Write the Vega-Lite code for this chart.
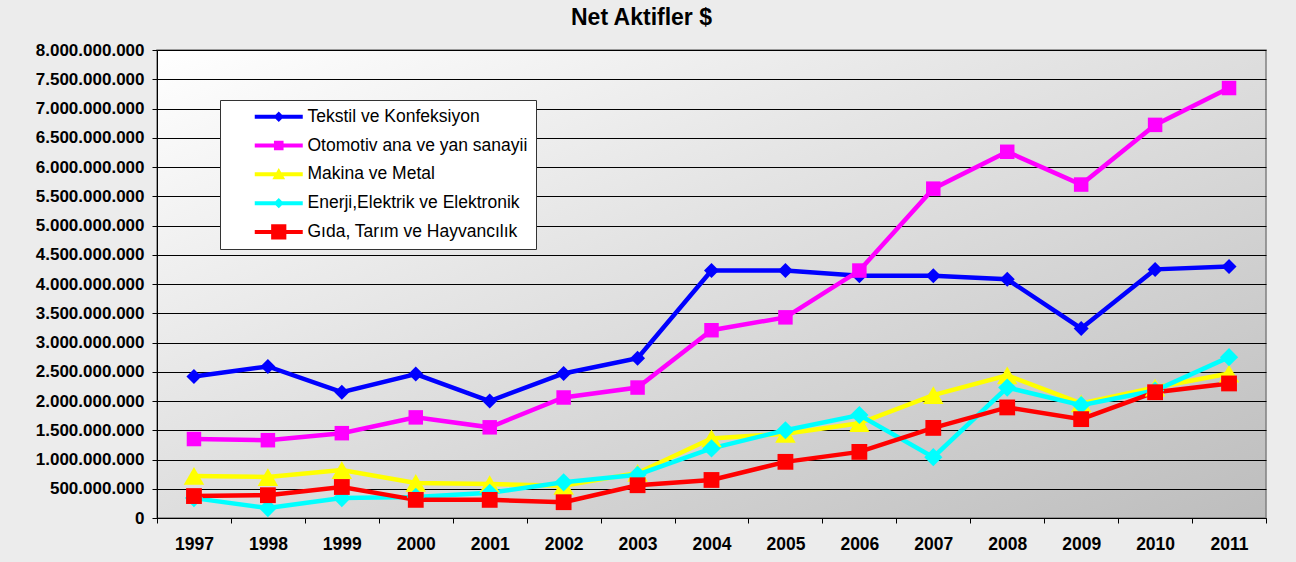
{
  "$schema": "https://vega.github.io/schema/vega-lite/v6.json",
  "autosize": "none",
  "width": 1109,
  "height": 468,
  "padding": {"left": 157, "top": 50, "right": 30, "bottom": 44},
  "background": "#ececec",
  "title": {"text": "Net Aktifler $", "fontSize": 23, "fontWeight": "bold", "font": "Liberation Sans", "color": "#000000", "dx": -70, "offset": 11},
  "data": {"values": [
    {"year": "1997", "series": "Tekstil ve Konfeksiyon", "value": 2420000000},
    {"year": "1998", "series": "Tekstil ve Konfeksiyon", "value": 2590000000},
    {"year": "1999", "series": "Tekstil ve Konfeksiyon", "value": 2150000000},
    {"year": "2000", "series": "Tekstil ve Konfeksiyon", "value": 2460000000},
    {"year": "2001", "series": "Tekstil ve Konfeksiyon", "value": 2000000000},
    {"year": "2002", "series": "Tekstil ve Konfeksiyon", "value": 2470000000},
    {"year": "2003", "series": "Tekstil ve Konfeksiyon", "value": 2730000000},
    {"year": "2004", "series": "Tekstil ve Konfeksiyon", "value": 4230000000},
    {"year": "2005", "series": "Tekstil ve Konfeksiyon", "value": 4230000000},
    {"year": "2006", "series": "Tekstil ve Konfeksiyon", "value": 4140000000},
    {"year": "2007", "series": "Tekstil ve Konfeksiyon", "value": 4140000000},
    {"year": "2008", "series": "Tekstil ve Konfeksiyon", "value": 4080000000},
    {"year": "2009", "series": "Tekstil ve Konfeksiyon", "value": 3240000000},
    {"year": "2010", "series": "Tekstil ve Konfeksiyon", "value": 4250000000},
    {"year": "2011", "series": "Tekstil ve Konfeksiyon", "value": 4300000000},
    {"year": "1997", "series": "Otomotiv ana ve yan sanayii", "value": 1350000000},
    {"year": "1998", "series": "Otomotiv ana ve yan sanayii", "value": 1330000000},
    {"year": "1999", "series": "Otomotiv ana ve yan sanayii", "value": 1450000000},
    {"year": "2000", "series": "Otomotiv ana ve yan sanayii", "value": 1720000000},
    {"year": "2001", "series": "Otomotiv ana ve yan sanayii", "value": 1550000000},
    {"year": "2002", "series": "Otomotiv ana ve yan sanayii", "value": 2060000000},
    {"year": "2003", "series": "Otomotiv ana ve yan sanayii", "value": 2230000000},
    {"year": "2004", "series": "Otomotiv ana ve yan sanayii", "value": 3210000000},
    {"year": "2005", "series": "Otomotiv ana ve yan sanayii", "value": 3430000000},
    {"year": "2006", "series": "Otomotiv ana ve yan sanayii", "value": 4230000000},
    {"year": "2007", "series": "Otomotiv ana ve yan sanayii", "value": 5630000000},
    {"year": "2008", "series": "Otomotiv ana ve yan sanayii", "value": 6260000000},
    {"year": "2009", "series": "Otomotiv ana ve yan sanayii", "value": 5700000000},
    {"year": "2010", "series": "Otomotiv ana ve yan sanayii", "value": 6720000000},
    {"year": "2011", "series": "Otomotiv ana ve yan sanayii", "value": 7350000000},
    {"year": "1997", "series": "Makina ve Metal", "value": 720000000},
    {"year": "1998", "series": "Makina ve Metal", "value": 700000000},
    {"year": "1999", "series": "Makina ve Metal", "value": 820000000},
    {"year": "2000", "series": "Makina ve Metal", "value": 600000000},
    {"year": "2001", "series": "Makina ve Metal", "value": 580000000},
    {"year": "2002", "series": "Makina ve Metal", "value": 550000000},
    {"year": "2003", "series": "Makina ve Metal", "value": 770000000},
    {"year": "2004", "series": "Makina ve Metal", "value": 1360000000},
    {"year": "2005", "series": "Makina ve Metal", "value": 1440000000},
    {"year": "2006", "series": "Makina ve Metal", "value": 1620000000},
    {"year": "2007", "series": "Makina ve Metal", "value": 2100000000},
    {"year": "2008", "series": "Makina ve Metal", "value": 2440000000},
    {"year": "2009", "series": "Makina ve Metal", "value": 1960000000},
    {"year": "2010", "series": "Makina ve Metal", "value": 2230000000},
    {"year": "2011", "series": "Makina ve Metal", "value": 2470000000},
    {"year": "1997", "series": "Enerji,Elektrik ve Elektronik", "value": 340000000},
    {"year": "1998", "series": "Enerji,Elektrik ve Elektronik", "value": 170000000},
    {"year": "1999", "series": "Enerji,Elektrik ve Elektronik", "value": 340000000},
    {"year": "2000", "series": "Enerji,Elektrik ve Elektronik", "value": 360000000},
    {"year": "2001", "series": "Enerji,Elektrik ve Elektronik", "value": 430000000},
    {"year": "2002", "series": "Enerji,Elektrik ve Elektronik", "value": 610000000},
    {"year": "2003", "series": "Enerji,Elektrik ve Elektronik", "value": 740000000},
    {"year": "2004", "series": "Enerji,Elektrik ve Elektronik", "value": 1190000000},
    {"year": "2005", "series": "Enerji,Elektrik ve Elektronik", "value": 1500000000},
    {"year": "2006", "series": "Enerji,Elektrik ve Elektronik", "value": 1760000000},
    {"year": "2007", "series": "Enerji,Elektrik ve Elektronik", "value": 1040000000},
    {"year": "2008", "series": "Enerji,Elektrik ve Elektronik", "value": 2230000000},
    {"year": "2009", "series": "Enerji,Elektrik ve Elektronik", "value": 1930000000},
    {"year": "2010", "series": "Enerji,Elektrik ve Elektronik", "value": 2180000000},
    {"year": "2011", "series": "Enerji,Elektrik ve Elektronik", "value": 2750000000},
    {"year": "1997", "series": "Gıda, Tarım ve Hayvancılık", "value": 375000000},
    {"year": "1998", "series": "Gıda, Tarım ve Hayvancılık", "value": 390000000},
    {"year": "1999", "series": "Gıda, Tarım ve Hayvancılık", "value": 530000000},
    {"year": "2000", "series": "Gıda, Tarım ve Hayvancılık", "value": 310000000},
    {"year": "2001", "series": "Gıda, Tarım ve Hayvancılık", "value": 310000000},
    {"year": "2002", "series": "Gıda, Tarım ve Hayvancılık", "value": 270000000},
    {"year": "2003", "series": "Gıda, Tarım ve Hayvancılık", "value": 560000000},
    {"year": "2004", "series": "Gıda, Tarım ve Hayvancılık", "value": 650000000},
    {"year": "2005", "series": "Gıda, Tarım ve Hayvancılık", "value": 960000000},
    {"year": "2006", "series": "Gıda, Tarım ve Hayvancılık", "value": 1130000000},
    {"year": "2007", "series": "Gıda, Tarım ve Hayvancılık", "value": 1540000000},
    {"year": "2008", "series": "Gıda, Tarım ve Hayvancılık", "value": 1890000000},
    {"year": "2009", "series": "Gıda, Tarım ve Hayvancılık", "value": 1690000000},
    {"year": "2010", "series": "Gıda, Tarım ve Hayvancılık", "value": 2150000000},
    {"year": "2011", "series": "Gıda, Tarım ve Hayvancılık", "value": 2300000000}
  ]},
  "encoding": {
    "x": {"field": "year", "type": "ordinal", "scale": {"paddingInner": 0, "paddingOuter": 0},
      "axis": {"title": null, "labelAngle": 0, "labelFontSize": 17.5, "labelFontWeight": "bold", "labelFont": "Liberation Sans", "labelColor": "#000000", "domainColor": "#000000", "tickColor": "#000000", "tickSize": 5, "tickBand": "extent", "labelPadding": 12, "grid": false}},
    "y": {"field": "value", "type": "quantitative", "scale": {"domain": [0, 8000000000], "nice": false},
      "axis": {"title": null, "values": [0, 500000000, 1000000000, 1500000000, 2000000000, 2500000000, 3000000000, 3500000000, 4000000000, 4500000000, 5000000000, 5500000000, 6000000000, 6500000000, 7000000000, 7500000000, 8000000000], "format": ",d", "labelFontSize": 17, "labelFontWeight": "bold", "labelFont": "Liberation Sans", "labelColor": "#000000", "domainColor": "#000000", "tickColor": "#000000", "tickSize": 5, "labelPadding": 8, "grid": true, "gridColor": "#000000", "gridOpacity": 1, "gridWidth": 1}},
    "color": {"field": "series", "type": "nominal",
      "scale": {"domain": ["Tekstil ve Konfeksiyon", "Otomotiv ana ve yan sanayii", "Makina ve Metal", "Enerji,Elektrik ve Elektronik", "Gıda, Tarım ve Hayvancılık"], "range": ["#0000ff", "#ff00ff", "#ffff00", "#00ffff", "#ff0000"]}}
  },
  "layer": [
    {
      "mark": {"type": "line", "strokeWidth": 4.5},
      "encoding": {
        "color": {"field": "series", "type": "nominal",
          "legend": {
            "title": null, "orient": "none", "legendX": 63, "legendY": 50,
            "fillColor": "#ffffff", "strokeColor": "#333333", "padding": 8,
            "labelFont": "Liberation Sans", "labelFontSize": 17.5, "labelColor": "#000000", "labelLimit": 400,
            "symbolType": "M-3,-0.25H3V0.25H-3Z", "symbolSize": 256, "symbolOffset": 42, "labelOffset": 20, "rowPadding": 9.8,
            "encode": {"symbols": {"update": {
              "shape": {"signal": "['M-3,-0.25H3V0.25H-3Z M0,-0.65L0.65,0L0,0.65L-0.65,0Z','M-3,-0.25H3V0.25H-3Z M-0.6,-0.6H0.6V0.6H-0.6Z','M-3,-0.25H3V0.25H-3Z M0,-0.8L0.8,0.6H-0.8Z','M-3,-0.25H3V0.25H-3Z M0,-0.65L0.65,0L0,0.65L-0.65,0Z','M-3,-0.25H3V0.25H-3Z M-0.95,-0.95H0.95V0.95H-0.95Z'][indexof(['Tekstil ve Konfeksiyon','Otomotiv ana ve yan sanayii','Makina ve Metal','Enerji,Elektrik ve Elektronik','Gıda, Tarım ve Hayvancılık'], datum.value)]"},
              "fill": {"scale": "color", "field": "value"},
              "fillOpacity": {"value": 1},
              "opacity": {"value": 1},
              "strokeWidth": {"value": 0},
              "size": {"value": 256}
            }}}
          }}
      }
    },
    {
      "transform": [{"filter": "datum.series === 'Tekstil ve Konfeksiyon'"}],
      "mark": {"type": "point", "filled": true, "opacity": 1, "shape": "diamond", "size": 225}
    },
    {
      "transform": [{"filter": "datum.series === 'Otomotiv ana ve yan sanayii'"}],
      "mark": {"type": "point", "filled": true, "opacity": 1, "shape": "square", "size": 210}
    },
    {
      "transform": [{"filter": "datum.series === 'Makina ve Metal'"}],
      "mark": {"type": "point", "filled": true, "opacity": 1, "shape": "triangle-up", "size": 420}
    },
    {
      "transform": [{"filter": "datum.series === 'Enerji,Elektrik ve Elektronik'"}],
      "mark": {"type": "point", "filled": true, "opacity": 1, "shape": "diamond", "size": 330}
    },
    {
      "transform": [{"filter": "datum.series === 'Gıda, Tarım ve Hayvancılık'"}],
      "mark": {"type": "point", "filled": true, "opacity": 1, "shape": "square", "size": 250}
    }
  ],
  "config": {
    "locale": {"number": {"decimal": ",", "thousands": ".", "grouping": [3], "currency": ["$", ""]}},
    "view": {
      "stroke": "#808080", "strokeWidth": 1.5,
      "fill": {"gradient": "linear", "x1": 0, "y1": 0, "x2": 1, "y2": 1, "stops": [{"offset": 0, "color": "#ffffff"}, {"offset": 1, "color": "#bdbdbd"}]}
    }
  }
}
